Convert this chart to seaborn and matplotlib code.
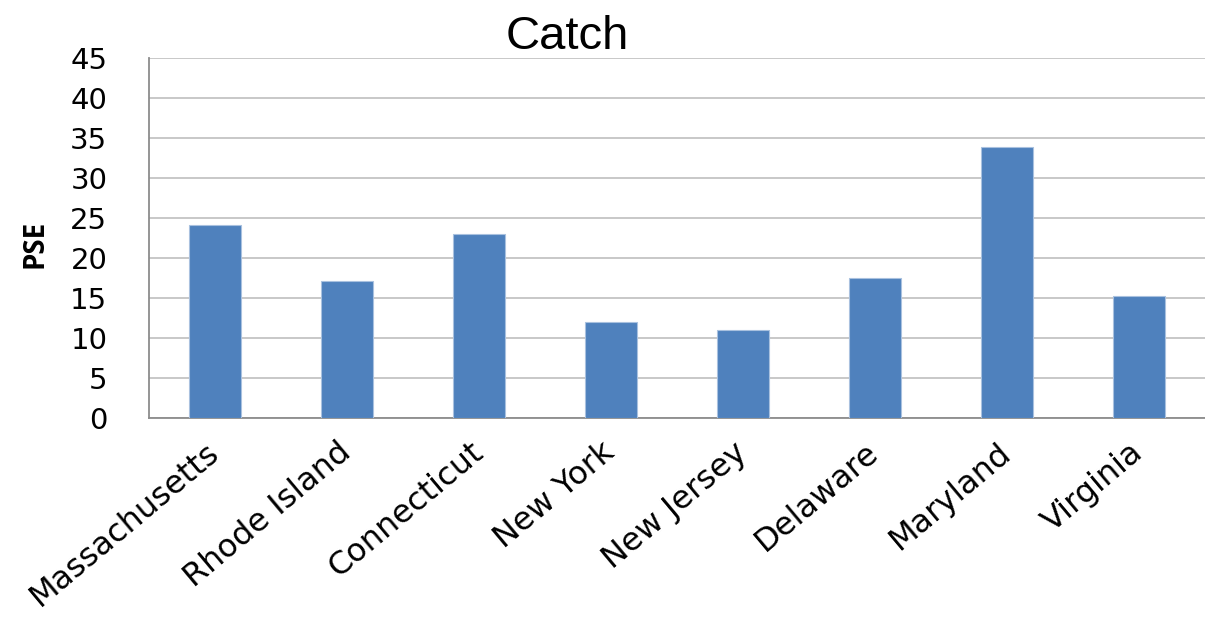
import matplotlib
matplotlib.use("Agg")
import matplotlib.pyplot as plt
import seaborn as sns
import pandas as pd
import numpy as np

# Data
states = ['Massachusetts', 'Rhode Island', 'Connecticut', 'New York',
          'New Jersey', 'Delaware', 'Maryland', 'Virginia']
pse = [24.1, 17.1, 23.0, 12.0, 11.0, 17.5, 33.9, 15.3]
y_ticks = [0, 5, 10, 15, 20, 25, 30, 35, 40, 45]

BAR_COLOR = '#4F81BD'
GRID_COLOR = '#C4C4C4'
AXIS_COLOR = '#8C8C8C'

sns.set_style('white')
plt.rcParams['font.family'] = ['DejaVu Sans']
plt.rcParams['text.color'] = 'black'
plt.rcParams['xtick.labelcolor'] = 'black'
plt.rcParams['ytick.labelcolor'] = 'black'

df = pd.DataFrame({'state': states, 'pse': pse})

fig = plt.figure(figsize=(12.05, 6.21), dpi=100)
ax = fig.add_axes([149 / 1205, 1 - 418 / 621, 1 - 149 / 1205, 360 / 621])

sns.barplot(data=df, x='state', y='pse', color=BAR_COLOR, width=0.4,
            edgecolor='#A9C1DF', linewidth=0.8, saturation=1, ax=ax, zorder=3)

ax.set_ylim(0, 45)
ax.set_xlim(-0.5, len(states) - 0.5)
ax.set_yticks(y_ticks)
ax.yaxis.grid(True, color=GRID_COLOR, linewidth=1.3, zorder=0)
ax.set_axisbelow(True)

for side in ['top', 'right']:
    ax.spines[side].set_visible(False)
for side in ['left', 'bottom']:
    ax.spines[side].set_color(AXIS_COLOR)
    ax.spines[side].set_linewidth(1.3)

# category boundary ticks on x
ax.set_xticks(np.arange(-0.5, len(states), 1.0), minor=True)
ax.tick_params(axis='x', which='minor', length=7, width=1.2, color=AXIS_COLOR, direction='out')
ax.tick_params(axis='x', which='major', length=0, pad=22)
ax.tick_params(axis='y', length=10, width=1.2, color=AXIS_COLOR, direction='out', pad=20,
               labelsize=21)
ax.set_xticks(range(len(states)))
ax.set_xticklabels(states, rotation=40, ha='right', va='center', rotation_mode='anchor',
                   fontsize=23)

ax.set_xlabel('')
ax.set_ylabel('')
fig.text(35 / 1205, 1 - 244 / 621, 'PSE', rotation=90, fontsize=20, fontweight='bold',
         ha='center', va='center', family=['Open Sans', 'DejaVu Sans'])
fig.text(567 / 1205, 1 - 49 / 621, 'Catch', fontsize=34, ha='center', va='baseline',
         family=['Liberation Sans', 'DejaVu Sans'])

fig.savefig('out.png', dpi=100)
